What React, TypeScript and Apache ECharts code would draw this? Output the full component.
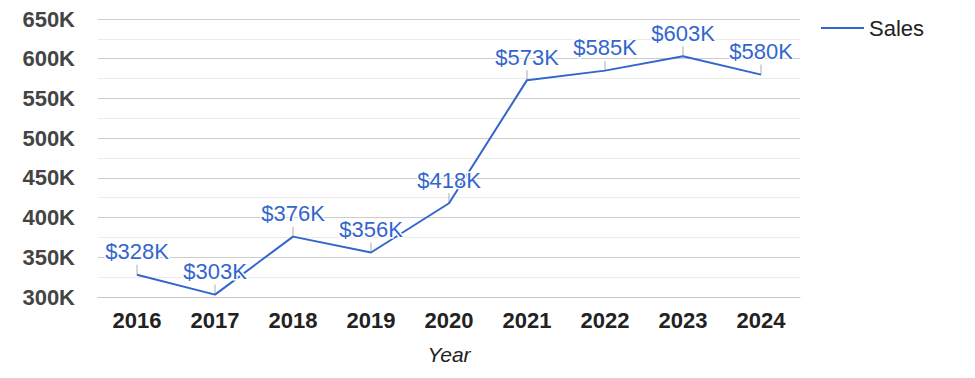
import React, { useEffect, useRef } from "react";
import * as echarts from "echarts";

const years = ["2016", "2017", "2018", "2019", "2020", "2021", "2022", "2023", "2024"];
const sales = [328000, 303000, 376000, 356000, 418000, 573000, 585000, 603000, 580000];
const seriesName = "Sales";
const axisName = "Year";

export default function App() {
  const ref = useRef<HTMLDivElement>(null);
  useEffect(() => {
    if (!ref.current) return;
    const chart = echarts.init(ref.current, null, { renderer: "svg" });
    const font = "Liberation Sans, Arial, sans-serif";
    chart.setOption({
      animation: false,
      textStyle: { fontFamily: font },
      grid: { left: 90, right: 167, top: 11, bottom: 68 },
      legend: {
        data: [{ name: seriesName, icon: "rect" }],
        left: 808,
        top: 4,
        itemWidth: 43,
        itemHeight: 2,
        itemGap: 10,
        textStyle: { fontSize: 22, color: "#222", fontFamily: font },
      },
      xAxis: {
        type: "category",
        data: years,
        boundaryGap: true,
        name: axisName,
        nameLocation: "middle",
        nameGap: 47,
        nameTextStyle: { fontSize: 21, fontStyle: "italic", color: "#222", fontFamily: font },
        axisLine: { show: true, lineStyle: { color: "#c8c8c8" } },
        axisTick: { show: false },
        axisLabel: { fontSize: 22, fontWeight: "bold", color: "#222", margin: 12, fontFamily: font },
      },
      yAxis: {
        type: "value",
        min: 300000,
        max: 650000,
        interval: 50000,
        axisLine: { show: false },
        axisTick: { show: false },
        axisLabel: {
          fontSize: 22,
          fontWeight: "bold",
          color: "#444",
          margin: 23,
          fontFamily: font,
          formatter: (v: number) => v / 1000 + "K",
        },
        splitLine: { lineStyle: { color: "#cccccc" } },
        minorTick: { show: false, splitNumber: 2 },
        minorSplitLine: { show: true, lineStyle: { color: "#ebebeb" } },
      },
      series: [
        {
          name: "leader",
          type: "scatter",
          data: sales,
          symbol: "rect",
          symbolSize: [1, 10],
          symbolOffset: [0, -5],
          itemStyle: { color: "#999" },
          silent: true,
          z: 1,
        },
        {
          name: seriesName,
          type: "line",
          data: sales,
          showSymbol: true,
          symbol: "circle",
          symbolSize: 0.01,
          lineStyle: { color: "#3366cc", width: 2 },
          itemStyle: { color: "#3366cc" },
          z: 2,
          label: {
            show: true,
            position: "top",
            distance: 12,
            fontSize: 22,
            color: "#3366cc",
            fontFamily: font,
            textBorderColor: "#fff",
            textBorderWidth: 3,
            formatter: (p: any) => "$" + Math.round(p.value / 1000) + "K",
          },
        },
      ],
    });
    return () => chart.dispose();
  }, []);
  return <div ref={ref} style={{ width: 959, height: 362 }} />;
}
